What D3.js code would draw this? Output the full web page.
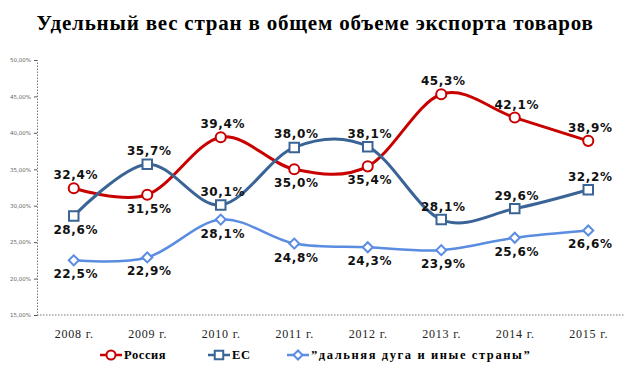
<!DOCTYPE html>
<html lang="ru">
<head>
    <meta charset="UTF-8">
    <title>Удельный вес стран в общем объеме экспорта товаров</title>
    <script src="https://d3js.org/d3.v7.min.js"></script>
    <style>
        body { margin: 0; background: #fff; }
        svg { display: block; }
    </style>
</head>
<body>
    <div id="chart"></div>

    <script>
        // Data
        const years = ["2008 г.", "2009 г.", "2010 г.", "2011 г.", "2012 г.", "2013 г.", "2014 г.", "2015 г."];
        const russia = [32.4, 31.5, 39.4, 35.0, 35.4, 45.3, 42.1, 38.9];
        const eu = [28.6, 35.7, 30.1, 38.0, 38.1, 28.1, 29.6, 32.2];
        const farArc = [22.5, 22.9, 28.1, 24.8, 24.3, 23.9, 25.6, 26.6];
        const yTicks = [15, 20, 25, 30, 35, 40, 45, 50];
        const seriesNames = ["Россия", "ЕС", "”дальняя дуга и иные страны”"];

        // which side of the marker each value label sits on
        const russiaLabelSide = ["up", "down", "up", "down", "down", "up", "up", "up"];
        const euLabelSide = ["down", "up", "up", "up", "up", "up", "up", "up"];
        const farLabelSide = ["down", "down", "down", "down", "down", "down", "down", "down"];

        const width = 638, height = 375;
        const plot = { left: 37, right: 625, top: 60, bottom: 315 };

        const svg = d3.select("#chart").append("svg")
            .attr("width", width)
            .attr("height", height);

        svg.append("text")
            .attr("x", 315)
            .attr("y", 30)
            .attr("text-anchor", "middle")
            .attr("font-family", "Liberation Serif, serif")
            .attr("font-weight", "bold")
            .attr("font-size", 21)
            .attr("letter-spacing", 0.8)
            .attr("fill", "#000")
            .text("Удельный вес стран в общем объеме экспорта товаров");

        const x = d3.scalePoint()
            .domain(years)
            .range([plot.left, plot.right])
            .padding(0.5);

        const y = d3.scaleLinear()
            .domain([15, 50])
            .range([plot.bottom, plot.top]);

        // y axis
        const yAxis = svg.append("g")
            .attr("transform", `translate(${plot.left},0)`)
            .call(d3.axisLeft(y).tickValues(yTicks).tickSize(3)
                .tickFormat(d => d3.format(".2f")(d).replace(".", ",") + "%"));
        yAxis.select(".domain").attr("stroke", "#777").attr("stroke-dasharray", "1.5,1.5");
        yAxis.selectAll(".tick line").attr("stroke", "#555");
        yAxis.selectAll(".tick text")
            .attr("font-family", "DejaVu Sans, sans-serif")
            .attr("font-size", 5.5)
            .attr("fill", "#666");

        // x axis
        const xAxis = svg.append("g")
            .attr("transform", `translate(0,${plot.bottom})`)
            .call(d3.axisBottom(x).tickSize(0).tickPadding(14));
        xAxis.select(".domain")
            .attr("d", `M${plot.left},0H${plot.right}`)
            .attr("stroke", "#777").attr("stroke-dasharray", "1.5,1.5");
        xAxis.selectAll(".tick text")
            .attr("font-family", "Liberation Serif, serif")
            .attr("font-size", 12)
            .attr("letter-spacing", 0.8)
            .attr("fill", "#222");

        const line = d3.line()
            .x((d, i) => x(years[i]))
            .y(d => y(d))
            .curve(d3.curveCardinal.tension(0));

        // diamond = square turned 45 degrees
        const series = [
            { name: seriesNames[0], values: russia, side: russiaLabelSide, color: "#C80000", symbol: d3.symbolCircle, size: 80, rot: 0, width: 3 },
            { name: seriesNames[1], values: eu, side: euLabelSide, color: "#3B6496", symbol: d3.symbolSquare, size: 90, rot: 0, width: 3 },
            { name: seriesNames[2], values: farArc, side: farLabelSide, color: "#5A8CE2", symbol: d3.symbolSquare, size: 50, rot: 45, width: 2.5 }
        ];

        series.forEach(s => {
            svg.append("path")
                .datum(s.values)
                .attr("fill", "none")
                .attr("stroke", s.color)
                .attr("stroke-width", s.width)
                .attr("d", line);
        });

        series.forEach(s => {
            svg.selectAll(null)
                .data(s.values)
                .enter().append("path")
                .attr("transform", (d, i) => `translate(${x(years[i])},${y(d)}) rotate(${s.rot})`)
                .attr("d", d3.symbol().type(s.symbol).size(s.size))
                .attr("fill", "#fff")
                .attr("stroke", s.color)
                .attr("stroke-width", 2);

            svg.selectAll(null)
                .data(s.values)
                .enter().append("text")
                .attr("x", (d, i) => x(years[i]) + 2)
                .attr("y", (d, i) => y(d) + (s.side[i] === "up" ? -9 : 18))
                .attr("text-anchor", "middle")
                .attr("font-family", "DejaVu Sans, sans-serif")
                .attr("font-weight", "bold")
                .attr("font-size", 12)
                .attr("letter-spacing", 0.6)
                .attr("fill", "#111")
                .text(d => d3.format(".1f")(d).replace(".", ",") + "%");
        });

        // legend
        const legendX = [100, 208, 287];
        const legend = svg.append("g").attr("transform", "translate(0,355)");
        series.forEach((s, i) => {
            const g = legend.append("g").attr("transform", `translate(${legendX[i]},0)`);
            g.append("line")
                .attr("x1", 0).attr("x2", 22)
                .attr("stroke", s.color).attr("stroke-width", 2.5);
            g.append("path")
                .attr("transform", `translate(11,0) rotate(${s.rot})`)
                .attr("d", d3.symbol().type(s.symbol).size(s.size * 0.8))
                .attr("fill", "#fff")
                .attr("stroke", s.color)
                .attr("stroke-width", 2);
            g.append("text")
                .attr("x", 24)
                .attr("y", 4)
                .attr("font-family", "Liberation Serif, serif")
                .attr("font-weight", "bold")
                .attr("font-size", 12.5)
                .attr("letter-spacing", i === 2 ? 1.6 : 0.6)
                .attr("fill", "#000")
                .text(s.name);
        });
    </script>
</body>
</html>
